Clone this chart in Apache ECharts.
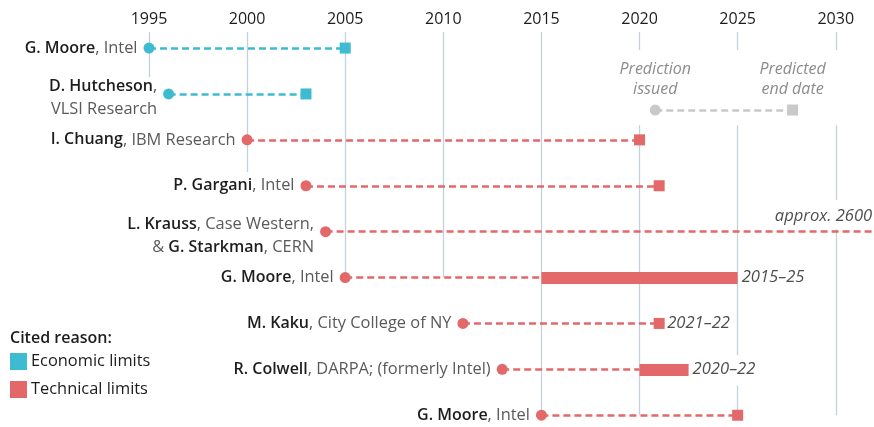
<!DOCTYPE html>
<html>
<head>
<meta charset="utf-8">
<script src="https://cdn.jsdelivr.net/npm/echarts@6/dist/echarts.min.js"></script>
<style>
  html, body { margin: 0; padding: 0; background: #fff; }
  #chart { width: 874px; height: 427px; }
</style>
</head>
<body>
<div id="chart"></div>
<script>
// one row per prediction, top to bottom
const labels = [
  "{b|G. Moore}{r|, Intel}",
  "{b|D. Hutcheson}{r|,}\n{r|VLSI Research}",
  "{b|I. Chuang}{r|, IBM Research}",
  "{b|P. Gargani}{r|, Intel}",
  "{b|L. Krauss}{r|, Case Western,}\n{r|& }{b|G. Starkman}{r|, CERN}",
  "{b|G. Moore}{r|, Intel}",
  "{b|M. Kaku}{r|, City College of NY}",
  "{b|R. Colwell}{r|, DARPA; (formerly Intel)}",
  "{b|G. Moore}{r|, Intel}",
];
const reasons = [
  "Economic limits", "Economic limits", "Technical limits", "Technical limits",
  "Technical limits", "Technical limits", "Technical limits", "Technical limits",
  "Technical limits",
];
const issued = [1995, 1996, 2000, 2003, 2004, 2005, 2011, 2013, 2015];
const endFrom = [2005, 2003, 2020, 2021, 2600, 2015, 2021, 2020, 2025];
const endTo = [2005, 2003, 2020, 2021, 2600, 2025, 2021, 2022.5, 2025];
const notes = ["", "", "", "", "approx. 2600", "2015–25", "2021–22", "2020–22", ""];

const yearTicks = [1995, 2000, 2005, 2010, 2015, 2020, 2025, 2030];
const xMin = 1995, xMax = 2032;

// key for the grey "prediction issued -> predicted end" sample
const keyYears = [2020.8, 2027.8];
const keyRow = 1.35;
const keyText = ["Prediction\nissued", "Predicted\nend date"];

// vertical gridlines: year, from row, to row (gaps where text sits)
const TOP = -0.35, BOTTOM = 8.3;
const gridSegs = [
  [1995, TOP, 0.63], [2000, TOP, 2.7], [2005, TOP, 5], [2010, TOP, 5],
  [2015, TOP, 8],
  [2020, TOP, 0.04], [2020, 1.68, 8],
  [2025, TOP, 0.04], [2025, 1.68, 6.69], [2025, 7.35, 8],
  [2030, TOP, 0.04], [2030, 1.68, 3.31], [2030, 3.95, 8],
];

const colors = { "Economic limits": "#3DBBD1", "Technical limits": "#E2686A" };
const FONT = "Open Sans";

const chart = echarts.init(document.getElementById("chart"));

const rows = issued.map((_, i) => i);
const series = [];

series.push({
  type: "lines",
  coordinateSystem: "cartesian2d",
  silent: true,
  z: 1,
  lineStyle: { color: "#C3D0DD", width: 1.3, opacity: 1 },
  data: gridSegs.map(([x, a, b]) => ({ coords: [[x, a], [x, b]] })),
});

Object.keys(colors).forEach((reason) => {
  const idx = rows.filter((i) => reasons[i] === reason);
  const c = colors[reason];
  // dashed connectors
  series.push({
    name: reason,
    type: "lines",
    coordinateSystem: "cartesian2d",
    silent: true,
    z: 2,
    lineStyle: { color: c, width: 2.5, type: [7, 4], opacity: 1 },
    data: idx.map((i) => ({ coords: [[issued[i], i], [endFrom[i], i]] })),
  });
  // ranges
  series.push({
    name: reason,
    type: "lines",
    coordinateSystem: "cartesian2d",
    silent: true,
    z: 3,
    lineStyle: { color: c, width: 12, type: "solid", cap: "butt", opacity: 1 },
    data: idx.filter((i) => endTo[i] > endFrom[i])
      .map((i) => ({ coords: [[endFrom[i], i], [endTo[i], i]] })),
  });
  // single end dates
  series.push({
    name: reason,
    type: "scatter",
    symbol: "rect",
    symbolSize: 11,
    z: 4,
    itemStyle: { color: c, opacity: 1 },
    data: idx.filter((i) => endTo[i] === endFrom[i] && endTo[i] <= xMax)
      .map((i) => [endFrom[i], i]),
  });
  // issue dates with names
  series.push({
    name: reason,
    type: "scatter",
    symbol: "circle",
    symbolSize: 11,
    z: 5,
    itemStyle: { color: c, opacity: 1 },
    data: idx.map((i) => ({
      value: [issued[i], i],
      row: i,
      label: labels[i].includes("\n") ? { offset: [0, 4] } : {},
    })),
    label: {
      show: true,
      position: "left",
      distance: 6,
      align: "right",
      lineHeight: 23,
      formatter: (p) => labels[p.data.row],
      rich: {
        b: { fontFamily: FONT, fontSize: 16, fontWeight: 600, color: "#1d1d1d", lineHeight: 23 },
        r: { fontFamily: FONT, fontSize: 16.4, color: "#5a5a5a", lineHeight: 23 },
      },
    },
  });
});

// italic notes beside the end marks
series.push({
  type: "scatter",
  symbolSize: 0,
  silent: true,
  z: 6,
  data: rows.filter((i) => notes[i]).map((i) => {
    const off = endTo[i] > xMax;
    return {
      value: [off ? xMax - 0.14 : endTo[i], i],
      label: off
        ? { position: "left", offset: [0, -15], distance: 0 }
        : { position: "right", distance: endTo[i] > endFrom[i] ? 4 : 8 },
      note: notes[i],
    };
  }),
  label: {
    show: true,
    formatter: (p) => p.data.note,
    fontFamily: FONT,
    fontSize: 16.6,
    fontStyle: "italic",
    color: "#222",
  },
});

// grey key
series.push({
  type: "lines",
  coordinateSystem: "cartesian2d",
  silent: true,
  z: 2,
  lineStyle: { color: "#C9C9C9", width: 2.5, type: [7, 4], opacity: 1 },
  data: [{ coords: [[keyYears[0], keyRow], [keyYears[1], keyRow]] }],
});
series.push({
  type: "scatter",
  silent: true,
  z: 4,
  itemStyle: { color: "#C9C9C9", opacity: 1 },
  data: keyYears.map((x, k) => ({
    value: [x, keyRow],
    symbol: k === 0 ? "circle" : "rect",
    symbolSize: 11,
    txt: keyText[k],
  })),
  label: {
    show: true,
    position: "top",
    distance: 5,
    align: "center",
    formatter: (p) => p.data.txt,
    fontFamily: FONT,
    fontSize: 16,
    fontStyle: "italic",
    lineHeight: 20,
    color: "#8c8c8c",
  },
});

chart.setOption({
  animation: false,
  textStyle: { fontFamily: FONT },
  grid: { left: 149, width: 726, top: 32, height: 397, outerBoundsMode: "none", containLabel: false },
  title: {
    text: "Cited reason:",
    left: 5,
    top: 325,
    textStyle: { fontFamily: FONT, fontSize: 16, fontWeight: 600, color: "#1d1d1d" },
  },
  legend: {
    data: Object.keys(colors),
    orient: "vertical",
    left: 10,
    top: 353,
    padding: 0,
    icon: "rect",
    itemWidth: 15,
    itemHeight: 15,
    itemGap: 11,
    selectedMode: false,
    textStyle: { fontFamily: FONT, fontSize: 16.4, color: "#1d1d1d" },
  },
  xAxis: {
    type: "value",
    position: "top",
    min: xMin,
    max: xMax,
    interval: 5,
    axisLine: { show: false },
    axisTick: { show: false },
    splitLine: { show: false },
    axisLabel: {
      margin: 5,
      fontFamily: FONT,
      fontSize: 16,
      color: "#1d1d1d",
      formatter: (v) => (yearTicks.includes(v) ? String(v) : ""),
    },
  },
  yAxis: {
    type: "value",
    inverse: true,
    min: TOP,
    max: BOTTOM,
    show: false,
  },
  series: series,
});
</script>
</body>
</html>
